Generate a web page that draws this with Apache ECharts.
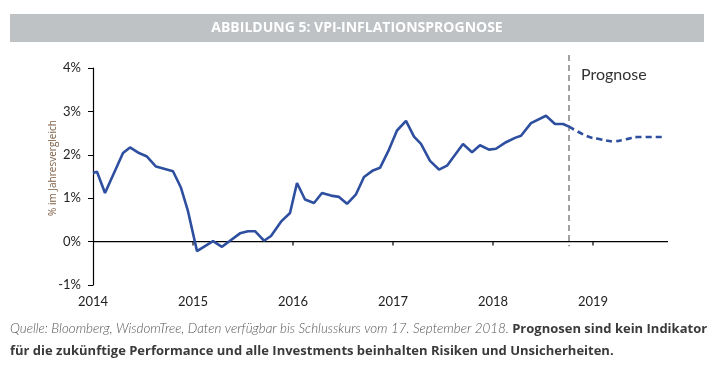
<!DOCTYPE html>
<html><head><meta charset="utf-8">
<script src="https://cdn.jsdelivr.net/npm/echarts@6/dist/echarts.min.js"></script>
<style>html,body{margin:0;padding:0;background:#fff}#c{width:713px;height:371px}</style>
</head><body><div id="c"></div>
<script>
// Data (x = decimal year, y = % yoy)
var actualX = [2014.00,2014.04,2014.12,2014.30,2014.37,2014.46,2014.54,2014.63,2014.80,2014.88,2014.95,
  2015.04,2015.20,2015.29,2015.47,2015.55,2015.62,2015.71,2015.78,2015.88,2015.97,
  2016.04,2016.12,2016.21,2016.29,2016.38,2016.46,2016.54,2016.63,2016.71,2016.80,2016.87,2016.96,
  2017.04,2017.13,2017.21,2017.28,2017.37,2017.46,2017.54,2017.70,2017.79,2017.87,2017.96,
  2018.03,2018.13,2018.22,2018.28,2018.38,2018.53,2018.62,2018.70,2018.76];
var actualY = [1.58,1.61,1.12,2.04,2.17,2.04,1.96,1.73,1.62,1.24,0.70,
  -0.22,0.01,-0.12,0.19,0.24,0.24,0.02,0.13,0.46,0.66,
  1.35,0.97,0.89,1.12,1.06,1.03,0.87,1.09,1.49,1.64,1.70,2.12,
  2.56,2.78,2.42,2.25,1.86,1.66,1.75,2.25,2.06,2.22,2.12,
  2.14,2.29,2.39,2.44,2.73,2.90,2.71,2.71,2.65];
var forecastX = [2018.76,2018.95,2019.07,2019.20,2019.33,2019.45,2019.70];
var forecastY = [2.65,2.42,2.36,2.31,2.36,2.41,2.41];
var forecastStart = 2018.76;
var yTicks = [-1,0,1,2,3,4];
var xTicks = [2014,2015,2016,2017,2018,2019];
var titleText = 'ABBILDUNG 5: VPI-INFLATIONSPROGNOSE';
var yName = '% im Jahresvergleich';
var prognoseLabel = 'Prognose';
var sourceText = 'Quelle: Bloomberg, WisdomTree, Daten verfügbar bis Schlusskurs vom 17. September 2018.';
var note1 = 'Prognosen sind kein Indikator';
var note2 = 'für die zukünftige Performance und alle Investments beinhalten Risiken und Unsicherheiten.';

function pairs(xs, ys){ return xs.map(function(x,i){ return [x, ys[i]]; }); }

var chart = echarts.init(document.getElementById('c'), null, {renderer:'canvas'});
var font = 'Lato, "Open Sans", sans-serif';
var xMin = 2014, xMax = 2019.75;
var yMin = yTicks[0], yMax = yTicks[yTicks.length-1];
var tickLen = 0.09; // tick length in % units below the zero line
var tickData = [];
xTicks.slice(1).forEach(function(t){ tickData.push([t,0],[t,-tickLen],[t,'-']); });
chart.setOption({
  animation:false,
  backgroundColor:'#fff',
  grid:{left:93, right:45, top:68, bottom:86, containLabel:false},
  xAxis:{
    type:'value', min:xMin, max:xMax, interval:1, position:'bottom',
    axisLine:{show:false, onZero:false}, axisTick:{show:false}, splitLine:{show:false},
    axisLabel:{show:true, margin:10, color:'#222', fontSize:13, fontFamily:font,
      formatter:function(v){ return xTicks.indexOf(v) >= 0 ? String(v) : ''; }}
  },
  yAxis:{
    type:'value', min:yMin, max:yMax, interval:1,
    axisLine:{show:true, onZero:false, lineStyle:{color:'#000', width:1.2}},
    axisTick:{show:true, length:5, lineStyle:{color:'#000'}},
    axisLabel:{margin:12, color:'#222', fontSize:13, fontFamily:font, formatter:'{value}%'},
    splitLine:{show:false}
  },
  series:[{
    type:'line', data:[[xMin,0],[xMax,0]], symbol:'none', silent:true,
    lineStyle:{color:'#000', width:1.2}, z:1
  },{
    type:'line', data:tickData, symbol:'none', silent:true, connectNulls:false,
    lineStyle:{color:'#000', width:1.2}, z:1
  },{
    type:'line', data:pairs(actualX, actualY), symbol:'none',
    lineStyle:{color:'#2e4f9f', width:2.6}, z:3
  },{
    type:'line', data:pairs(forecastX, forecastY), symbol:'none', smooth:0.4,
    lineStyle:{color:'#2e4f9f', width:2.6, type:[6,4]}, z:3
  },{
    type:'line', data:[[forecastStart,4.3],[forecastStart,-0.11]], symbol:'none', clip:false,
    lineStyle:{color:'#555', width:1.1, type:[6,4]}, z:2, silent:true
  }],
  graphic:[
    {type:'rect', shape:{x:10, y:14, width:694, height:28}, style:{fill:'#bec2c5'}},
    {type:'text', x:357, y:28, style:{text:titleText, fill:'#fff', font:'bold 14px "Open Sans", sans-serif', textAlign:'center', textVerticalAlign:'middle'}},
    {type:'text', x:53, y:168, rotation:Math.PI/2, style:{text:yName, fill:'#7d5f45', font:'10px "Open Sans", sans-serif', textAlign:'center', textVerticalAlign:'middle'}},
    {type:'text', x:581, y:75, style:{text:prognoseLabel, fill:'#333', font:'16px Lato, sans-serif', textAlign:'left', textVerticalAlign:'middle'}},
    {type:'text', x:10, y:329, style:{text:'{i|'+sourceText+'} {b|'+note1+'}', textVerticalAlign:'middle',
      rich:{i:{fontFamily:'Lato, sans-serif', fontStyle:'italic', fontSize:13.4, fill:'#555', fontWeight:300},
            b:{fontFamily:'"Open Sans", sans-serif', fontWeight:'bold', fontSize:13, fill:'#3a3a3a'}}}},
    {type:'text', x:10, y:351, style:{text:note2, fill:'#3a3a3a', font:'bold 13px "Open Sans", sans-serif', textVerticalAlign:'middle'}}
  ]
});
</script></body></html>
